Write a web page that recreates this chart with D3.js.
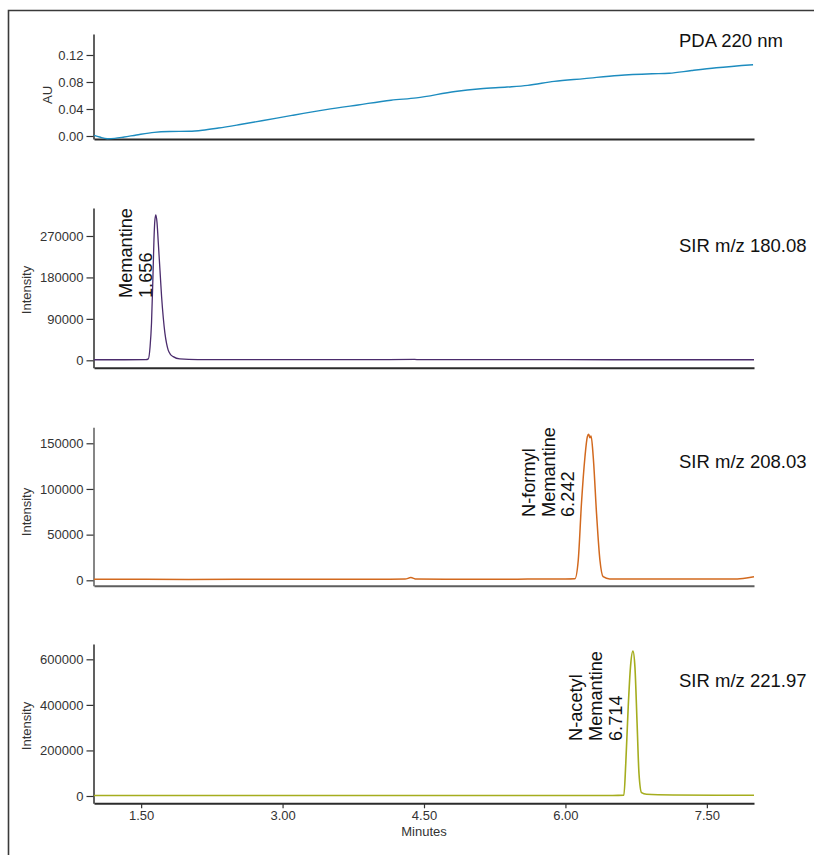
<!DOCTYPE html>
<html>
<head>
<meta charset="utf-8">
<script src="https://cdn.jsdelivr.net/npm/d3@7"></script>
<style>
  html, body { margin: 0; padding: 0; background: #fff; }
  svg { display: block; font-family: "Liberation Sans", Arial, Helvetica, sans-serif; }
</style>
</head>
<body>
<svg id="chart" width="814" height="855"></svg>
<script>
// ---------------- DATA ----------------
const xTickValues = [1.5, 3.0, 4.5, 6.0, 7.5];
const xTickLabels = ["1.50", "3.00", "4.50", "6.00", "7.50"];

const pdaTicks = [0, 0.04, 0.08, 0.12];
const pdaTickLabels = ["0.00", "0.04", "0.08", "0.12"];
const pdaTime = [1.00,1.06,1.14,1.22,1.32,1.45,1.64,1.80,2.01,2.15,2.32,2.55,2.78,3.10,3.46,3.80,4.15,4.42,4.83,5.10,5.38,5.60,5.88,6.20,6.56,6.92,7.10,7.34,7.60,7.99];
const pdaAU   = [0.0010,-0.0015,-0.0040,-0.0035,-0.0015,0.0015,0.0054,0.0066,0.0070,0.0085,0.0118,0.0170,0.0225,0.0305,0.0390,0.0460,0.0530,0.0565,0.0660,0.0700,0.0725,0.0750,0.0810,0.0850,0.0897,0.0922,0.0930,0.0970,0.1010,0.1055];

const memTicks = [0, 90000, 180000, 270000];
const memTime = [1.00,1.30,1.55,1.576,1.595,1.61,1.625,1.636,1.646,1.656,1.668,1.682,1.70,1.717,1.735,1.752,1.77,1.787,1.81,1.84,1.91,2.10,3.00,4.00,4.40,4.45,5.00,6.00,7.00,8.00];
const memInt  = [1200,1200,1300,3000,30000,81000,180000,262000,305000,316000,300000,255000,195000,138000,92000,59000,36000,22000,13000,8000,3000,1600,1400,1400,1900,1400,1300,1300,1200,1200];

const forTicks = [0, 50000, 100000, 150000];
const forTime = [1.00,2.00,3.00,4.00,4.30,4.36,4.42,5.00,5.60,6.00,6.10,6.136,6.17,6.207,6.232,6.246,6.26,6.272,6.295,6.33,6.366,6.40,6.47,7.00,7.50,7.80,7.92,8.00];
const forInt  = [1200,1000,1100,1200,1300,3000,1300,1200,1300,1400,1600,22000,84000,135000,157000,160000,156000,158000,135000,73000,22000,4000,1500,1300,1300,1500,2600,3900];

const aceTicks = [0, 200000, 400000, 600000];
const aceTime = [1.00,2.00,3.00,4.00,5.00,6.00,6.50,6.62,6.64,6.666,6.69,6.716,6.737,6.76,6.78,6.807,6.86,7.14,7.60,8.00];
const aceInt  = [2000,2000,2500,2500,2500,2500,2500,4000,143000,392000,567000,636000,567000,319000,100000,15000,7500,4500,3500,3000];

const panelTitles = ["PDA 220 nm", "SIR m/z 180.08", "SIR m/z 208.03", "SIR m/z 221.97"];
const yAxisTitles = ["AU", "Intensity", "Intensity", "Intensity"];
const peakTimes = [null, 1.656, 6.242, 6.714];
const peakLabels = [null, ["Memantine", "1.656"], ["N-formyl", "Memantine", "6.242"], ["N-acetyl", "Memantine", "6.714"]];

// ---------------- LAYOUT ----------------
const svg = d3.select("#chart");
svg.append("rect").attr("width", 814).attr("height", 855).attr("fill", "#fff");
// frame (left and top edges visible)
svg.append("path").attr("d", "M8.5,855 V10.5 H814").attr("fill", "none").attr("stroke", "#3a3a3a").attr("stroke-width", 1.6);

const x = d3.scaleLinear().domain([1, 8]).range([94, 754]);

const panels = [
  { top: 34, bottom: 139, domain: [-0.00444, 0.1511], ticks: pdaTicks, fmt: (d, i) => pdaTickLabels[i],
    time: pdaTime, vals: pdaAU, color: "#1d8cbf", width: 1.4, titleY: 47, yLabelX: 51.5, yLabelY: 95,
    axisColor: "#2b2b2b" },
  { top: 208, bottom: 367.7, domain: [-16070, 330800], ticks: memTicks, fmt: d3.format("d"),
    time: memTime, vals: memInt, color: "#4b2c6d", width: 1.3, titleY: 251.7, yLabelX: 31, yLabelY: 290,
    axisColor: "#2b2b2b", labelOffsets: [-24.2, -4.2], labelBottom: 298 },
  { top: 427.3, bottom: 585.7, domain: [-5910, 167500], ticks: forTicks, fmt: d3.format("d"),
    time: forTime, vals: forInt, color: "#d2691e", width: 1.5, titleY: 467.7, yLabelX: 31, yLabelY: 512,
    axisColor: "#5e5e5e", labelOffsets: [-53.3, -33.3, -14.3], labelBottom: 517 },
  { top: 644, bottom: 803.3, domain: [-32040, 667200], ticks: aceTicks, fmt: d3.format("d"),
    time: aceTime, vals: aceInt, color: "#a5ad1e", width: 1.6, titleY: 687.3, yLabelX: 31, yLabelY: 726,
    axisColor: "#2b2b2b", labelOffsets: [-50.8, -31.1, -11.1], labelBottom: 741 }
];

panels.forEach((p, i) => {
  const y = d3.scaleLinear().domain(p.domain).range([p.bottom, p.top]);
  const g = svg.append("g");

  // y axis
  const yAxis = d3.axisLeft(y).tickValues(p.ticks).tickFormat(p.fmt).tickSizeInner(7).tickSizeOuter(0).tickPadding(3);
  const ya = g.append("g").attr("transform", "translate(93.5,0)").call(yAxis);
  ya.select(".domain").attr("stroke", p.axisColor).attr("stroke-width", 1.5);
  ya.selectAll(".tick line").attr("stroke", "#333").attr("stroke-width", 1.2);
  ya.selectAll(".tick text").attr("fill", "#333").style("font-size", "13px")
    .style("font-family", "'Liberation Sans', Arial, sans-serif");

  // x axis
  const isLast = i === panels.length - 1;
  const xAxis = d3.axisBottom(x).tickValues(isLast ? xTickValues : []).tickSizeInner(5).tickSizeOuter(0)
    .tickPadding(2).tickFormat((d, k) => xTickLabels[k]);
  const xa = g.append("g").attr("transform", `translate(0,${p.bottom})`).call(xAxis);
  xa.select(".domain").attr("stroke", p.axisColor).attr("stroke-width", 2);
  xa.selectAll(".tick line").attr("stroke", "#333").attr("stroke-width", 1.2);
  xa.selectAll(".tick text").attr("fill", "#333").style("font-size", "13px")
    .style("font-family", "'Liberation Sans', Arial, sans-serif");

  // trace
  const pts = p.time.map((t, k) => [t, p.vals[k]]);
  const line = d3.line().x(d => x(d[0])).y(d => y(d[1])).curve(d3.curveMonotoneX);
  g.append("path").datum(pts).attr("d", line).attr("fill", "none")
    .attr("stroke", p.color).attr("stroke-width", p.width).attr("stroke-linejoin", "round");

  // panel title
  g.append("text").attr("x", 679).attr("y", p.titleY).text(panelTitles[i])
    .attr("fill", "#111").style("font-size", "18.5px");

  // y axis title
  g.append("text").attr("transform", `translate(${p.yLabelX},${p.yLabelY}) rotate(-90)`)
    .attr("text-anchor", "middle").attr("fill", "#333").style("font-size", "13px").text(yAxisTitles[i]);

  // peak label
  if (peakLabels[i]) {
    const px = x(peakTimes[i]);
    peakLabels[i].forEach((s, k) => {
      g.append("text").attr("transform", `translate(${px + p.labelOffsets[k]},${p.labelBottom}) rotate(-90)`)
        .attr("text-anchor", "start").attr("fill", "#111").style("font-size", "18.2px").text(s);
    });
  }
});

// x axis title
svg.append("text").attr("x", (x.range()[0] + x.range()[1]) / 2).attr("y", 836)
  .attr("text-anchor", "middle").attr("fill", "#333").style("font-size", "13px").text("Minutes");
</script>
</body>
</html>
